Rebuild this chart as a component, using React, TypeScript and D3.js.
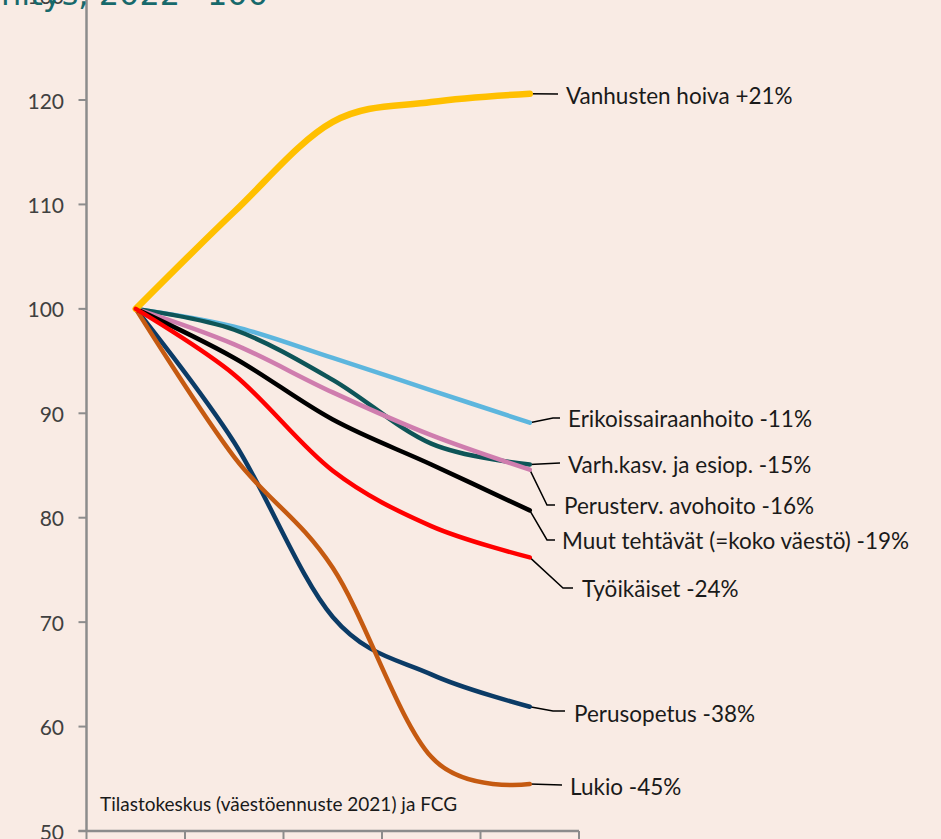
import React from "react";
import * as d3 from "d3";

const years = ["2022", "2025", "2030", "2035", "2040"];
const yTicks = [50, 60, 70, 80, 90, 100, 110, 120, 130];

const seriesNames = [
  "Perusopetus -38%",
  "Lukio -45%",
  "Erikoissairaanhoito -11%",
  "Varh.kasv. ja esiop. -15%",
  "Perusterv. avohoito -16%",
  "Muut tehtävät (=koko väestö) -19%",
  "Vanhusten hoiva +21%",
  "Työikäiset -24%",
];
const perusopetus = [100, 87.2, 70.5, 65.0, 61.9];
const lukio = [100, 85.8, 75.2, 57.1, 54.5];
const erikoissairaanhoito = [100, 98.3, 95.3, 92.2, 89.1];
const varhaiskasvatus = [100, 98.0, 93.2, 87.1, 85.1];
const perusterveydenhuolto = [100, 96.6, 92.0, 87.9, 84.6];
const muutTehtavat = [100, 95.3, 89.4, 85.1, 80.7];
const vanhustenHoiva = [100, 109.3, 117.9, 119.8, 120.6];
const tyoikaiset = [100, 93.7, 84.5, 79.2, 76.2];
const seriesValues = [
  perusopetus,
  lukio,
  erikoissairaanhoito,
  varhaiskasvatus,
  perusterveydenhuolto,
  muutTehtavat,
  vanhustenHoiva,
  tyoikaiset,
];

const title = "Palvelutarpeen kehitys, 2022=100";
const source = "Tilastokeskus (väestöennuste 2021) ja FCG";

// styles / layout (not data)
const colors = ["#0B3B66", "#C55A11", "#5DB6DE", "#0E5558", "#CF7DAE", "#000000", "#FFC000", "#FF0000"];
const widths = [4.5, 4.5, 4.5, 4.5, 4.5, 4.5, 6.5, 4.5];
// label layout: leader points after the line end, text x, text y
const labelLayout: { pts: [number, number][]; tx: number; ty: number }[] = [
  { pts: [[553, 711], [565, 711]], tx: 574, ty: 713 },
  { pts: [[562, 785]], tx: 570, ty: 786 },
  { pts: [[553, 418], [560, 418]], tx: 568, ty: 418 },
  { pts: [[560, 463]], tx: 568, ty: 464 },
  { pts: [[547, 505], [555, 505]], tx: 564, ty: 505 },
  { pts: [[547, 540], [555, 540]], tx: 562, ty: 540 },
  { pts: [[558, 94]], tx: 566, ty: 95 },
  { pts: [[563, 588], [573, 588]], tx: 582, ty: 588 },
];

const W = 941;
const H = 839;
const axisX = 86.5;
const axisRight = 579;
const axisY = 831;

export default function App() {
  const x = d3.scaleBand<string>().domain(years).range([axisX, axisRight]).padding(0);
  const y = d3.scaleLinear().domain([50, 120]).range([axisY, 100]);
  const line = d3
    .line<number>()
    .x((_, i) => (x(years[i]) as number) + x.bandwidth() / 2)
    .y((v) => y(v))
    .curve(d3.curveCardinal.tension(0));

  const font = "Lato, 'Open Sans', sans-serif";
  const bandEdges = [...years.map((yr) => x(yr) as number), axisRight];

  return (
    <svg
      width={W}
      height={H}
      style={{ position: "absolute", left: 0, top: 0, background: "#F9EBE4" }}
    >
      <rect x={0} y={0} width={W} height={H} fill="#F9EBE4" />
      {/* y axis */}
      <line x1={axisX} x2={axisX} y1={y(130)} y2={axisY} stroke="#8C8C8C" strokeWidth={2.5} />
      {yTicks.map((t) => (
        <g key={t}>
          <line x1={axisX - 8} x2={axisX} y1={y(t)} y2={y(t)} stroke="#8C8C8C" strokeWidth={2} />
          <text
            x={64}
            y={y(t)}
            textAnchor="end"
            dominantBaseline="central"
            fontFamily={font}
            fontSize={21}
            fill="#404040"
          >
            {t}
          </text>
        </g>
      ))}
      {/* x axis */}
      <line x1={axisX - 8} x2={axisRight} y1={axisY} y2={axisY} stroke="#8C8C8C" strokeWidth={2.5} />
      {bandEdges.map((e, i) => (
        <line key={i} x1={e} x2={e} y1={axisY} y2={axisY + 9} stroke="#8C8C8C" strokeWidth={2} />
      ))}
      {/* leaders */}
      {seriesValues.map((vals, i) => {
        const ex = (x(years[years.length - 1]) as number) + x.bandwidth() / 2;
        const ey = y(vals[vals.length - 1]);
        const pts: [number, number][] = [[ex, ey], ...labelLayout[i].pts];
        return (
          <polyline
            key={"l" + i}
            points={pts.map((p) => p.join(",")).join(" ")}
            fill="none"
            stroke="#000"
            strokeWidth={1.5}
          />
        );
      })}
      {/* series */}
      {seriesValues.map((vals, i) => (
        <path
          key={seriesNames[i]}
          d={line(vals) as string}
          fill="none"
          stroke={colors[i]}
          strokeWidth={widths[i]}
          strokeLinecap="round"
          strokeLinejoin="round"
        />
      ))}
      {/* labels */}
      {seriesNames.map((n, i) => (
        <text
          key={"t" + i}
          x={labelLayout[i].tx}
          y={labelLayout[i].ty}
          dominantBaseline="central"
          fontFamily={font}
          fontSize={22.5}
          fill="#1A1A1A"
        >
          {n}
        </text>
      ))}
      <text x={100} y={803} dominantBaseline="central" fontFamily={font} fontSize={19} fill="#1A1A1A">
        {source}
      </text>
      <text
        x={268}
        y={5}
        textAnchor="end"
        fontFamily="'DejaVu Sans', Verdana, sans-serif"
        fontSize={32}
        fill="#17696B"
      >
        {title}
      </text>
    </svg>
  );
}
